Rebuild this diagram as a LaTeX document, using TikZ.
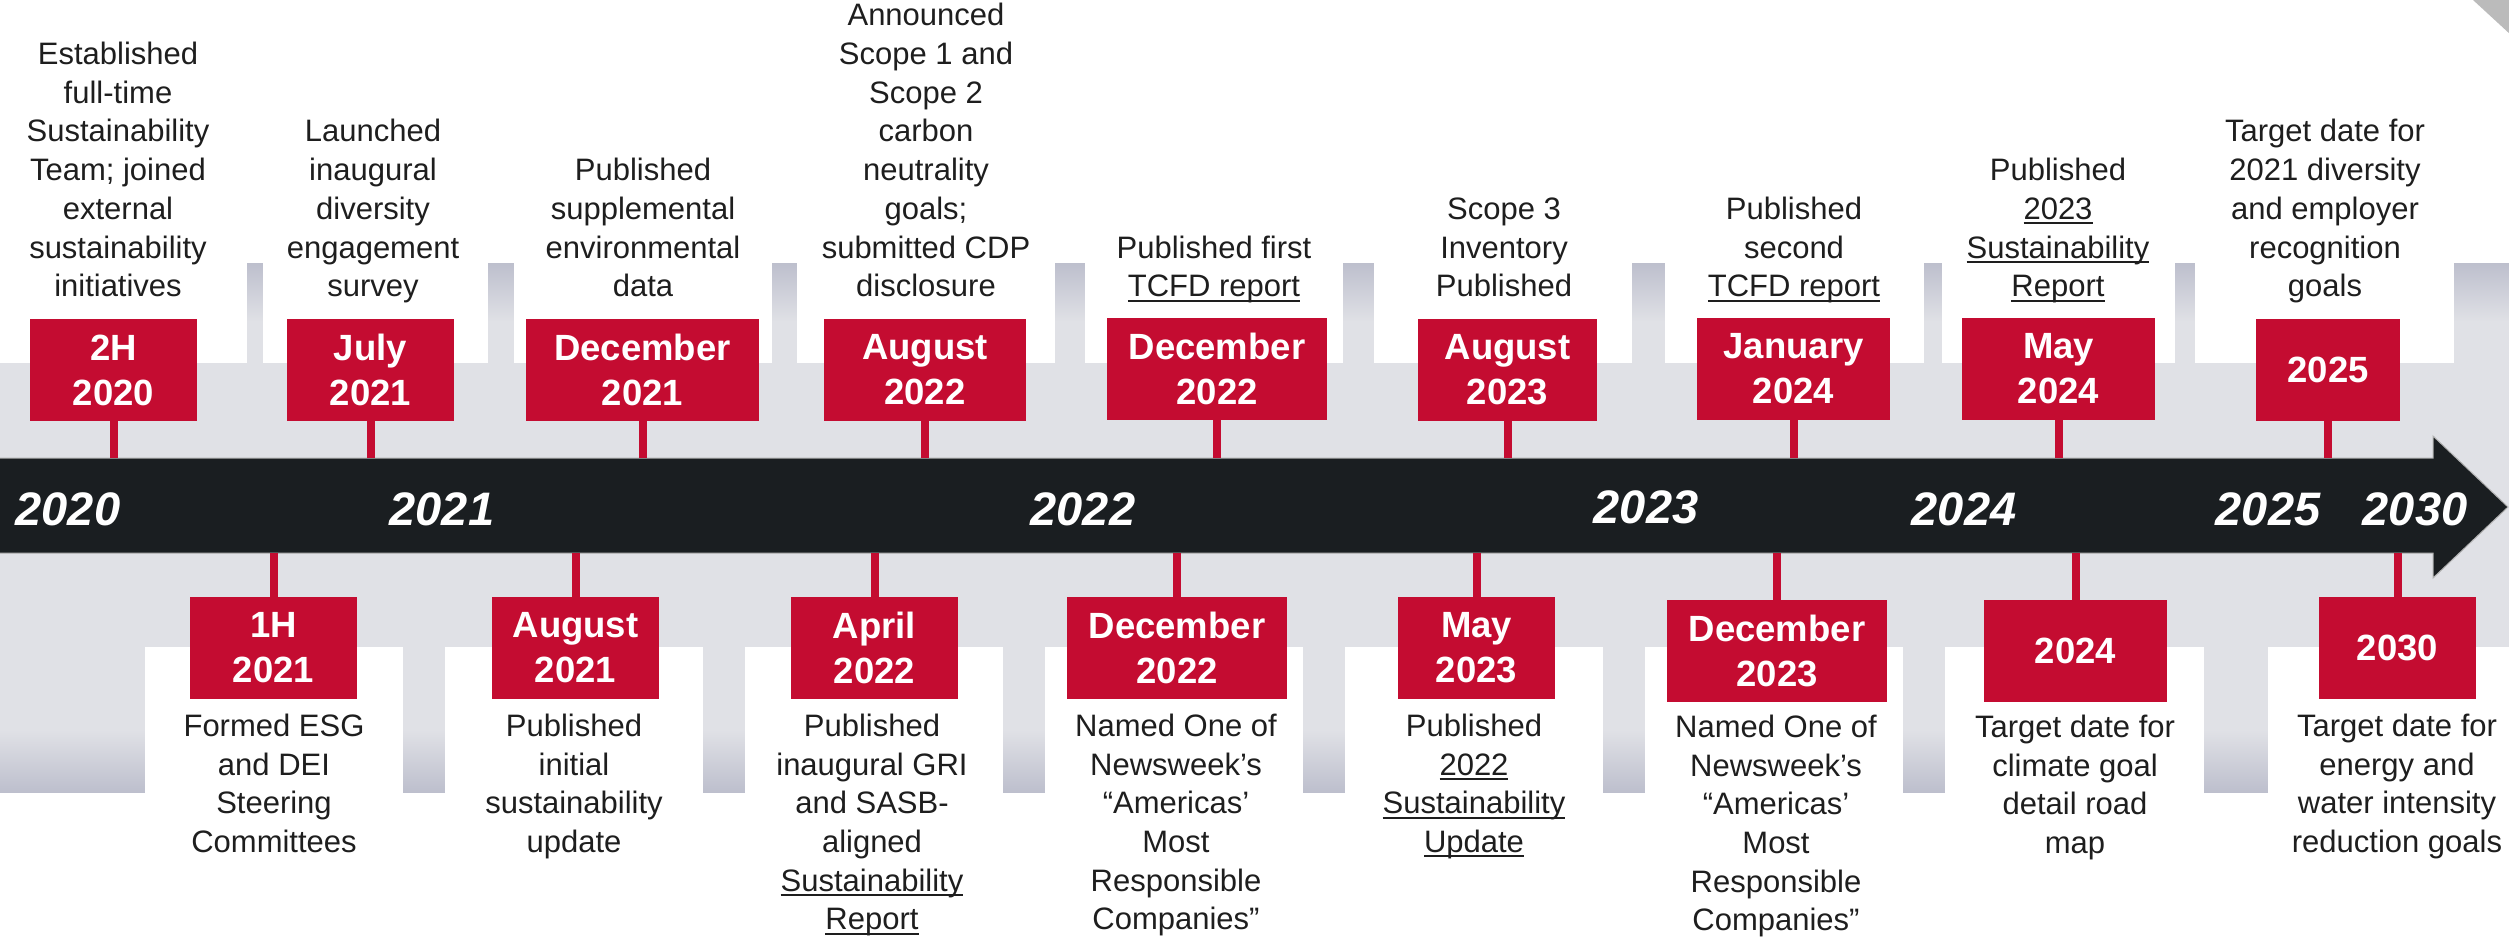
\documentclass[tikz,border=0pt]{standalone}
\usepackage{fontspec}
\setmainfont{Liberation Sans}
\definecolor{cred}{HTML}{C40C31}
\definecolor{band}{HTML}{E0E1E6}
\definecolor{gdark}{HTML}{BDBFCD}
\definecolor{arrowc}{HTML}{1A1E21}
\definecolor{ctext}{HTML}{1E1E1E}
\definecolor{cornerc}{HTML}{BBBBBB}
\newcommand\ulx[1]{\setbox0=\hbox{#1}\rlap{\rule[-5pt]{\wd0}{2pt}}\box0}
\begin{document}
\begin{tikzpicture}[x=1pt,y=-1pt,
  rbox/.style={fill=cred,text=white,font=\fontsize{36.5}{45}\selectfont\bfseries,align=center,inner sep=0pt,minimum height=102pt},
  utxt/.style={anchor=south,align=center,text=ctext,font=\fontsize{31}{38.7}\selectfont,inner sep=0pt},
  ltxt/.style={anchor=north,align=center,text=ctext,font=\fontsize{31}{38.7}\selectfont,inner sep=0pt},
  yr/.style={anchor=base,text=white,font=\fontsize{47}{50}\selectfont\bfseries\itshape,inner sep=0pt},
  stem/.style={draw=cred,line width=8pt}]
\useasboundingbox (0,0) rectangle (2509,937);
% background bands
\shade[top color=gdark,bottom color=band] (0,263) rectangle (2509,322);
\fill[band] (0,321) rectangle (2509,731);
\shade[top color=band,bottom color=gdark] (0,730) rectangle (2509,792);
\foreach \a/\b in {-1/247,263/488,514/772,797/1055,1085/1343,1374/1632,1665/1924,1942/2175,2195/2454}
  \fill[white] (\a,255) rectangle (\b,363);
\foreach \a/\b in {145/403,445/703,745/1003,1045/1303,1345/1603,1645/1903,1945/2204,2268/2511}
  \fill[white] (\a,647) rectangle (\b,800);
% corner
\fill[cornerc] (2473,0) -- (2511,0) -- (2511,35) -- cycle;
% arrow
\path[fill=arrowc,draw=gray!60,line width=1pt] (-2,458) -- (2433,458) -- (2433,436) -- (2508,507) -- (2433,578) -- (2433,553) -- (-2,553) -- cycle;
\coordinate (atop) at (0,458);
\coordinate (abot) at (0,553);
% year labels
\node[yr] (y2020) at (68,525) {2020};
\node[yr] (y2021) at (442,525) {2021};
\node[yr] (y2022) at (1083,525) {2022};
\node[yr] (y2023) at (1646,523) {2023};
\node[yr] (y2024) at (1964,525) {2024};
\node[yr] (y2025) at (2268,525) {2025};
\node[yr] (y2030) at (2415,525) {2030};
% upper boxes
\node[rbox,minimum width=167pt] (u1) at (113.5,370) {2H\\2020};
\node[rbox,minimum width=167pt] (u2) at (370.5,370) {July\\2021};
\node[rbox,minimum width=233pt] (u3) at (642.5,370) {December\\2021};
\node[rbox,minimum width=202pt] (u4) at (925,370) {August\\2022};
\node[rbox,minimum width=220pt] (u5) at (1217,369) {December\\2022};
\node[rbox,minimum width=179pt] (u6) at (1507.5,370) {August\\2023};
\node[rbox,minimum width=193pt] (u7) at (1793.5,369) {January\\2024};
\node[rbox,minimum width=193pt] (u8) at (2058.5,369) {May\\2024};
\node[rbox,minimum width=144pt] (u9) at (2328,370) {2025};
\foreach \n in {u1,u2,u3,u4,u5,u6,u7,u8,u9}
  \draw[stem] (\n.south) -- (\n.south |- atop);
% lower boxes
\node[rbox,minimum width=167pt] (l1) at (273.5,648) {1H\\2021};
\node[rbox,minimum width=167pt] (l2) at (575.5,648) {August\\2021};
\node[rbox,minimum width=167pt] (l3) at (874.5,648) {April\\2022};
\node[rbox,minimum width=220pt] (l4) at (1177,648) {December\\2022};
\node[rbox,minimum width=157pt] (l5) at (1476.5,648) {May\\2023};
\node[rbox,minimum width=220pt] (l6) at (1777,651) {December\\2023};
\node[rbox,minimum width=183pt] (l7) at (2075.5,651) {2024};
\node[rbox,minimum width=157pt] (l8) at (2397.5,648) {2030};
\foreach \n in {l1,l2,l3,l4,l5,l6,l7,l8}
  \draw[stem] (\n.north) -- (\n.north |- abot);
% upper texts
\node[utxt] (t1) at (118,308.6) {Established\\full-time\\Sustainability\\Team; joined\\external\\sustainability\\initiatives\strut};
\node[utxt] (t2) at (373,308.6) {Launched\\inaugural\\diversity\\engagement\\survey\strut};
\node[utxt] (t3) at (643,308.6) {Published\\supplemental\\environmental\\data\strut};
\node[utxt] (t4) at (926,308.6) {Announced\\Scope 1 and\\Scope 2\\carbon\\neutrality\\goals;\\submitted CDP\\disclosure\strut};
\node[utxt] (t5) at (1214,308.6) {Published first\\\ulx{TCFD report}\strut};
\node[utxt] (t6) at (1504,308.6) {Scope 3\\Inventory\\Published\strut};
\node[utxt] (t7) at (1794,308.6) {Published\\second\\\ulx{TCFD report}\strut};
\node[utxt] (t8) at (2058,308.6) {Published\\\ulx{2023}\\\ulx{Sustainability}\\\ulx{Report}\strut};
\node[utxt] (t9) at (2325,308.6) {Target date for\\2021 diversity\\and employer\\recognition\\goals\strut};
% lower texts
\node[ltxt] (s1) at (274,709) {\strut Formed ESG\\and DEI\\Steering\\Committees};
\node[ltxt] (s2) at (574,709) {\strut Published\\initial\\sustainability\\update};
\node[ltxt] (s3) at (872,709) {\strut Published\\inaugural GRI\\and SASB-\\aligned\\\ulx{Sustainability}\\\ulx{Report}};
\node[ltxt] (s4) at (1176,709) {\strut Named One of\\Newsweek’s\\“Americas’\\Most\\Responsible\\Companies”};
\node[ltxt] (s5) at (1474,709) {\strut Published\\\ulx{2022}\\\ulx{Sustainability}\\\ulx{Update}};
\node[ltxt] (s6) at (1776,710) {\strut Named One of\\Newsweek’s\\“Americas’\\Most\\Responsible\\Companies”};
\node[ltxt] (s7) at (2075,710) {\strut Target date for\\climate goal\\detail road\\map};
\node[ltxt] (s8) at (2397,709) {\strut Target date for\\energy and\\water intensity\\reduction goals};
\end{tikzpicture}
\end{document}
